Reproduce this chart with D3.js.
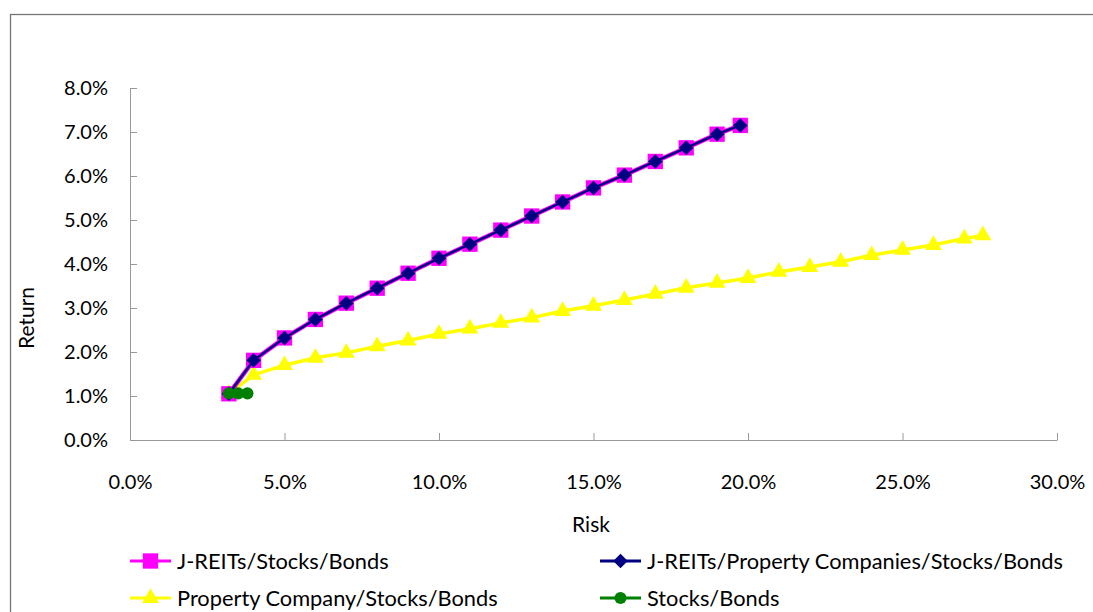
<!DOCTYPE html>
<html>
<head>
<meta charset="utf-8">
<script src="https://cdn.jsdelivr.net/npm/d3@7"></script>
<style>
  body { margin: 0; background: #fff; }
  text { font-family: Lato, "Open Sans", sans-serif; fill: #000; }
</style>
</head>
<body>
<div id="chart"></div>
<script>
// values (percent)
var jreitRisk = [3.2, 4, 5, 6, 7, 8, 9, 10, 11, 12, 13, 14, 15, 16, 17, 18, 19, 19.75];
var jreitReturn = [1.05, 1.81, 2.32, 2.74, 3.11, 3.45, 3.79, 4.13, 4.45, 4.77, 5.09, 5.41, 5.73, 6.02, 6.33, 6.64, 6.95, 7.15];
var jreitPcRisk = [3.2, 4, 5, 6, 7, 8, 9, 10, 11, 12, 13, 14, 15, 16, 17, 18, 19, 19.75];
var jreitPcReturn = [1.05, 1.81, 2.32, 2.74, 3.11, 3.45, 3.79, 4.13, 4.45, 4.77, 5.09, 5.41, 5.73, 6.02, 6.33, 6.64, 6.95, 7.15];
var propRisk = [3.2, 4, 5, 6, 7, 8, 9, 10, 11, 12, 13, 14, 15, 16, 17, 18, 19, 20, 21, 22, 23, 24, 25, 26, 27, 27.6];
var propReturn = [1.05, 1.48, 1.7, 1.87, 1.98, 2.13, 2.26, 2.41, 2.53, 2.66, 2.78, 2.93, 3.05, 3.18, 3.32, 3.46, 3.57, 3.68, 3.82, 3.93, 4.05, 4.2, 4.32, 4.43, 4.58, 4.65];
var sbRisk = [3.2, 3.5, 3.8];
var sbReturn = [1.06, 1.06, 1.06];

var xTicks = [0, 5, 10, 15, 20, 25, 30];
var yTicks = [0, 1, 2, 3, 4, 5, 6, 7, 8];

var seriesNames = ["J-REITs/Stocks/Bonds", "J-REITs/Property Companies/Stocks/Bonds",
                   "Property Company/Stocks/Bonds", "Stocks/Bonds"];

var width = 1093, height = 612;

var svg = d3.select("#chart").append("svg")
    .attr("width", width)
    .attr("height", height);

// outer chart frame (runs off the right and bottom edges)
svg.append("rect")
    .attr("x", 10.5).attr("y", 14.5)
    .attr("width", 1100).attr("height", 620)
    .attr("fill", "none")
    .attr("stroke", "#767676")
    .attr("stroke-width", 1.3);

var x = d3.scaleLinear().domain([0, 30]).range([130, 1057]);
var y = d3.scaleLinear().domain([0, 8]).range([440, 88]);

// axes
var xAxis = svg.append("g")
    .attr("transform", "translate(0,440)")
    .call(d3.axisBottom(x).tickValues(xTicks).tickSizeInner(-7).tickSizeOuter(0)
        .tickFormat(function(d){ return d.toFixed(1) + "%"; }));
xAxis.select(".domain").attr("stroke", "#999");
xAxis.selectAll(".tick line").attr("stroke", "#999");
xAxis.selectAll(".tick text")
    .attr("y", 42)
    .attr("dy", "0.35em")
    .style("font-size", "20px")
    .style("font-family", "Lato");

var yAxis = svg.append("g")
    .attr("transform", "translate(130,0)")
    .call(d3.axisLeft(y).tickValues(yTicks).tickSizeInner(-7).tickSizeOuter(0)
        .tickFormat(function(d){ return d.toFixed(1) + "%"; }));
yAxis.select(".domain").attr("stroke", "#999");
yAxis.selectAll(".tick line").attr("stroke", "#999");
yAxis.selectAll(".tick text")
    .attr("x", -22)
    .style("font-size", "20px")
    .style("font-family", "Lato");

// axis titles
svg.append("text")
    .attr("x", 591).attr("y", 525).attr("dy", "0.35em")
    .attr("text-anchor", "middle")
    .style("font-size", "21px")
    .text("Risk");

svg.append("text")
    .attr("transform", "translate(27,318) rotate(-90)")
    .attr("dy", "0.35em")
    .attr("text-anchor", "middle")
    .style("font-size", "21px")
    .text("Return");

var line = d3.line()
    .x(function(d){ return x(d[0]); })
    .y(function(d){ return y(d[1]); });

function pairs(a, b) {
    return a.map(function(v, i){ return [v, b[i]]; });
}

var square = d3.symbol().type(d3.symbolSquare).size(235);
var diamond = d3.symbol().type(d3.symbolSquare).size(105);
var triangle = d3.symbol().type(d3.symbolTriangle).size(125);
var circle = d3.symbol().type(d3.symbolCircle).size(115);

function drawSeries(data, color, lw, sym, rotate) {
    svg.append("path")
        .datum(data)
        .attr("d", line)
        .attr("fill", "none")
        .attr("stroke", color)
        .attr("stroke-width", lw);
    svg.append("g").selectAll("path")
        .data(data)
        .enter().append("path")
        .attr("d", sym)
        .attr("transform", function(d){
            return "translate(" + x(d[0]) + "," + y(d[1]) + ")" + (rotate ? " rotate(45)" : "");
        })
        .attr("fill", color);
}

drawSeries(pairs(propRisk, propReturn), "#FFFF00", 3.5, triangle, false);
drawSeries(pairs(jreitRisk, jreitReturn), "#FF00FF", 4.5, square, false);
drawSeries(pairs(jreitPcRisk, jreitPcReturn), "#000080", 2.5, diamond, true);
drawSeries(pairs(sbRisk, sbReturn), "#008000", 3, circle, false);

// legend
var legendItems = [
    {name: seriesNames[0], color: "#FF00FF", sym: square, rot: false, lx: 130, ly: 561},
    {name: seriesNames[1], color: "#000080", sym: diamond, rot: true, lx: 600, ly: 561},
    {name: seriesNames[2], color: "#FFFF00", sym: triangle, rot: false, lx: 130, ly: 598},
    {name: seriesNames[3], color: "#008000", sym: circle, rot: false, lx: 600, ly: 598}
];

var legend = svg.append("g");
legendItems.forEach(function(it) {
    legend.append("line")
        .attr("x1", it.lx).attr("x2", it.lx + 41)
        .attr("y1", it.ly).attr("y2", it.ly)
        .attr("stroke", it.color)
        .attr("stroke-width", 3);
    legend.append("path")
        .attr("d", it.sym)
        .attr("transform", "translate(" + (it.lx + 20.5) + "," + it.ly + ")" + (it.rot ? " rotate(45)" : ""))
        .attr("fill", it.color);
    legend.append("text")
        .attr("x", it.lx + 47).attr("y", it.ly).attr("dy", "0.35em")
        .style("font-size", "21.8px")
        .text(it.name);
});
</script>
</body>
</html>
